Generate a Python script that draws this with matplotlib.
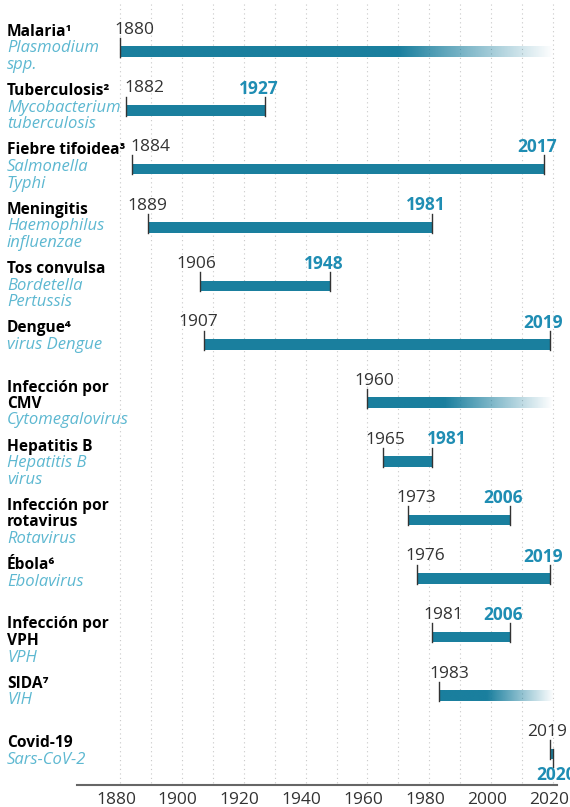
import numpy as np
import matplotlib
matplotlib.use("Agg")
import matplotlib.pyplot as plt
from matplotlib.colors import to_rgb

#######################################################################
# Data: disease -> pathogen discovery year / vaccine year
#######################################################################

disease_names = ["Malaria¹", "Tuberculosis²", "Fiebre tifoidea³", "Meningitis",
                 "Tos convulsa", "Dengue⁴", "Infección por\nCMV", "Hepatitis B",
                 "Infección por\nrotavirus", "Ébola⁶", "Infección por\nVPH",
                 "SIDA⁷", "Covid-19"]
pathogen_names = ["Plasmodium\nspp.", "Mycobacterium\ntuberculosis", "Salmonella\nTyphi",
                  "Haemophilus\ninfluenzae", "Bordetella\nPertussis", "virus Dengue",
                  "Cytomegalovirus", "Hepatitis B\nvirus", "Rotavirus", "Ebolavirus",
                  "VPH", "VIH", "Sars-CoV-2"]
discovery_year = [1880, 1882, 1884, 1889, 1906, 1907, 1960, 1965, 1973, 1976, 1981, 1983, 2019]
# None -> no vaccine yet (bar fades out up to 2020)
vaccine_year = [None, 1927, 2017, 1981, 1948, 2019, None, 1981, 2006, 2019, 2006, None, 2020]

x_ticks = [1880, 1900, 1920, 1940, 1960, 1980, 2000, 2020]
grid_years = list(range(1880, 2021, 10))
open_end_year = 2020

#######################################################################
# Style / layout
#######################################################################

W_PX, H_PX = 570, 807
PX_1880, PX_PER_YEAR = 120.0, 3.093

# horizontal nudge (px) of each start-year label relative to its tick
start_label_dx = [14, 18, 18, 0, -4, -5, 7, 2, 9, 8, 11, 11, -3]

bar_color = "#1a7f9e"
end_color = "#1f8db3"
species_color = "#5db8d1"
tick_color = "#333333"
grid_color = "#c8c8c8"

plt.rcParams["font.family"] = ["Open Sans", "DejaVu Sans"]


def px2yr(px):
    return 1880 + (px - PX_1880) / PX_PER_YEAR


fig = plt.figure(figsize=(W_PX / 100, H_PX / 100), dpi=100)
ax = fig.add_axes([0, 0, 1, 1])
ax.set_axis_off()

# grid
for g in grid_years:
    ax.plot([g, g], [4, 785], color=grid_color, lw=0.8, ls=(0, (1, 3)), zorder=0)

# bottom axis
ax.plot([px2yr(77), px2yr(557)], [785, 785], color="#666666", lw=1.5, zorder=1)
for t in x_ticks:
    ax.text(t - 1.3, 800, str(t), ha="center", va="center", fontsize=12.5, color=tick_color)

bar_h = 10.5
label_size = 12.5
line_step = 16.5

for i in range(len(disease_names)):
    y_bar = 52 + i * 58.5
    y_txt = 32 + i * 59.25
    start = discovery_year[i]
    end = vaccine_year[i]

    # left text block
    lines = []
    for ln in disease_names[i].split("\n"):
        lines.append((ln, "bold", "normal", "black", 11.2))
    for ln in pathogen_names[i].split("\n"):
        lines.append((ln, "normal", "italic", species_color, 12))
    for k, (ln, fw, fs, col, sz) in enumerate(lines):
        ax.text(px2yr(7), y_txt + k * line_step, ln, ha="left", va="center",
                fontsize=sz, fontweight=fw, fontstyle=fs, color=col)

    # bar
    if end is None:
        stop = open_end_year
        n = 300
        xs = np.linspace(start, stop, n)
        fade_len = min(50, 0.58 * (stop - start))
        alpha = np.clip((stop - xs) / fade_len, 0, 1)
        rgba = np.zeros((1, n, 4))
        rgba[0, :, :3] = to_rgb(bar_color)
        rgba[0, :, 3] = alpha
        ax.imshow(rgba, extent=(start, stop, y_bar + bar_h / 2, y_bar - bar_h / 2),
                  aspect="auto", interpolation="bilinear", zorder=2)
    else:
        ax.fill_between([start, end], y_bar - bar_h / 2, y_bar + bar_h / 2,
                        color=bar_color, lw=0, zorder=2)

    # start tick + label
    ax.plot([start, start], [y_bar + bar_h / 2, y_bar - 14], color=tick_color, lw=1, zorder=3)
    ax.text(start + start_label_dx[i] / PX_PER_YEAR, y_bar - 22, str(start),
            ha="center", va="center", fontsize=label_size, color=tick_color)

    # end tick + label
    if end is not None:
        if end - start <= 2:
            ax.plot([end, end], [y_bar - bar_h / 2, y_bar + 13], color=tick_color, lw=1, zorder=3)
            ax.text(end + 3 / PX_PER_YEAR, y_bar + 21, str(end), ha="center", va="center",
                    fontsize=label_size, fontweight="bold", color=end_color)
        else:
            ax.plot([end, end], [y_bar + bar_h / 2, y_bar - 14], color=tick_color, lw=1, zorder=3)
            dx = -7
            if (end - start) * PX_PER_YEAR < 60:
                dx = 14
            ax.text(end + dx / PX_PER_YEAR, y_bar - 22, str(end), ha="center", va="center",
                    fontsize=label_size, fontweight="bold", color=end_color)

ax.set_xlim(px2yr(0), px2yr(W_PX))
ax.set_ylim(H_PX, 0)

fig.savefig("out.png", dpi=100)
